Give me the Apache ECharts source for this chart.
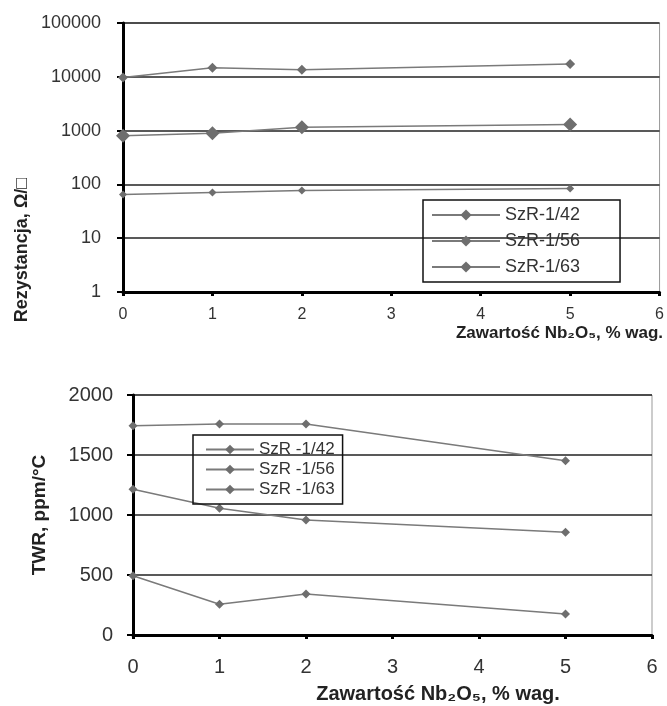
<!DOCTYPE html>
<html>
    <head>
        <meta charset="utf-8" />
        <script src="https://cdn.jsdelivr.net/npm/echarts@6/dist/echarts.min.js"></script>
        <style>
            html,
            body {
                margin: 0;
                padding: 0;
                background: #fff;
            }
            #main {
                width: 667px;
                height: 706px;
            }
        </style>
    </head>
    <body>
        <div id="main"></div>
        <script>
            // Nb2O5 content, % wt.
            var xValues = [0, 1, 2, 5];

            // top chart: sheet resistance (log scale)
            var resNames = ["SzR-1/42", "SzR-1/56", "SzR-1/63"];
            var res42 = [65, 71, 77, 84];
            var res56 = [805, 890, 1155, 1295];
            var res63 = [9700, 14750, 13500, 17300];

            // bottom chart: TCR
            var twrNames = ["SzR -1/42", "SzR -1/56", "SzR -1/63"];
            var twr42 = [1744, 1758, 1758, 1452];
            var twr56 = [1214, 1056, 958, 856];
            var twr63 = [494, 256, 342, 175];

            var xTitle = "Zawartość Nb₂O₅, % wag.";
            var resTitle = "Rezystancja, Ω/□";
            var twrTitle = "TWR, ppm/°C";

            var sans = "'Liberation Sans', Arial, sans-serif";
            var lineColor = "#7a7a7a";

            function pairs(ys) {
                var out = [];
                for (var i = 0; i < xValues.length; i++) {
                    out.push([xValues[i], ys[i]]);
                }
                return out;
            }

            function makeSeries(name, ys, idx, size) {
                return {
                    name: name,
                    type: "line",
                    xAxisIndex: idx,
                    yAxisIndex: idx,
                    data: pairs(ys),
                    symbol: "diamond",
                    symbolSize: size,
                    lineStyle: { color: lineColor, width: 1.5 },
                    itemStyle: { color: "#6e6e6e" },
                    animation: false,
                };
            }

            function plain(v) {
                return String(Math.round(v));
            }

            var axisLineStyle = { show: true, lineStyle: { color: "#000", width: 3 } };

            var chart = echarts.init(document.getElementById("main"));
            chart.setOption({
                animation: false,
                grid: [
                    {
                        left: 123,
                        right: 4,
                        top: 23,
                        height: 269,
                        show: true,
                        borderColor: "#999",
                        borderWidth: 1,
                    },
                    {
                        left: 133,
                        right: 15,
                        top: 395,
                        height: 240,
                        show: true,
                        borderColor: "#999",
                        borderWidth: 1,
                    },
                ],
                xAxis: [
                    {
                        gridIndex: 0,
                        type: "value",
                        min: 0,
                        max: 6,
                        interval: 1,
                        axisLine: axisLineStyle,
                        axisTick: { show: true, length: 4, lineStyle: { color: "#000", width: 3 } },
                        splitLine: { show: false },
                        axisLabel: { color: "#333", fontSize: 16, margin: 15, fontFamily: sans },
                    },
                    {
                        gridIndex: 1,
                        type: "value",
                        min: 0,
                        max: 6,
                        interval: 1,
                        axisLine: axisLineStyle,
                        axisTick: { show: true, length: 4, lineStyle: { color: "#000", width: 3 } },
                        splitLine: { show: false },
                        axisLabel: { color: "#333", fontSize: 20, margin: 22, fontFamily: sans },
                    },
                ],
                yAxis: [
                    {
                        gridIndex: 0,
                        type: "log",
                        logBase: 10,
                        min: 1,
                        max: 100000,
                        axisLine: axisLineStyle,
                        axisTick: { show: true, length: 6, lineStyle: { color: "#000", width: 2 } },
                        splitLine: { show: true, lineStyle: { color: "#222", width: 1.5 } },
                        axisLabel: {
                            color: "#333",
                            fontSize: 18,
                            margin: 22,
                            fontFamily: sans,
                            formatter: plain,
                        },
                    },
                    {
                        gridIndex: 1,
                        type: "value",
                        min: 0,
                        max: 2000,
                        interval: 500,
                        axisLine: axisLineStyle,
                        axisTick: { show: true, length: 6, lineStyle: { color: "#000", width: 2 } },
                        splitLine: { show: true, lineStyle: { color: "#222", width: 1.5 } },
                        axisLabel: { color: "#333", fontSize: 20, margin: 20, fontFamily: sans, formatter: plain },
                    },
                ],
                legend: [
                    {
                        data: resNames,
                        orient: "vertical",
                        left: 423,
                        top: 200,
                        padding: [6, 40, 6, 8],
                        itemGap: 8,
                        itemWidth: 68,
                        itemHeight: 14,
                        borderColor: "#111",
                        borderWidth: 1.5,
                        textStyle: { color: "#333", fontSize: 18, fontFamily: sans },
                    },
                    {
                        data: twrNames,
                        orient: "vertical",
                        left: 193,
                        top: 435,
                        padding: [6, 8, 6, 12],
                        itemGap: 3,
                        itemWidth: 48,
                        itemHeight: 12,
                        borderColor: "#111",
                        borderWidth: 1.5,
                        textStyle: { color: "#333", fontSize: 17, fontFamily: sans },
                    },
                ],
                series: [
                    makeSeries(resNames[0], res42, 0, 8),
                    makeSeries(resNames[1], res56, 0, 14),
                    makeSeries(resNames[2], res63, 0, 10),
                    makeSeries(twrNames[0], twr42, 1, 9),
                    makeSeries(twrNames[1], twr56, 1, 9),
                    makeSeries(twrNames[2], twr63, 1, 9),
                ],
                graphic: [
                    {
                        type: "text",
                        right: 4,
                        top: 325,
                        style: {
                            text: xTitle,
                            fill: "#222",
                            font: "bold 17px " + sans,
                        },
                    },
                    {
                        type: "text",
                        x: 22,
                        y: 250,
                        rotation: Math.PI / 2,
                        style: {
                            text: resTitle,
                            fill: "#222",
                            font: "bold 18px " + sans,
                            align: "center",
                            verticalAlign: "middle",
                        },
                    },
                    {
                        type: "text",
                        x: 438,
                        y: 694,
                        style: {
                            text: xTitle,
                            fill: "#222",
                            font: "bold 20px " + sans,
                            align: "center",
                            verticalAlign: "middle",
                        },
                    },
                    {
                        type: "text",
                        x: 40,
                        y: 515,
                        rotation: Math.PI / 2,
                        style: {
                            text: twrTitle,
                            fill: "#222",
                            font: "bold 19px " + sans,
                            align: "center",
                            verticalAlign: "middle",
                        },
                    },
                ],
            });
        </script>
    </body>
</html>
